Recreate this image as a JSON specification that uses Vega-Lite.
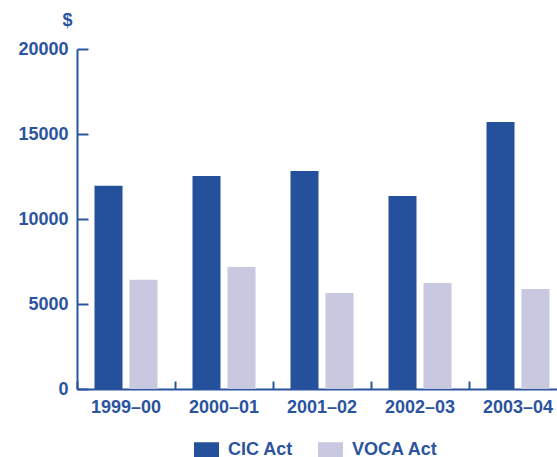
{
  "$schema": "https://vega.github.io/schema/vega-lite/v6.json",
  "width": 480,
  "height": 340,
  "autosize": {"type": "none"},
  "padding": {"left": 77, "top": 49, "right": 0, "bottom": 68},
  "background": "white",
  "config": {
    "view": {"stroke": null},
    "font": "Liberation Sans"
  },
  "data": {
    "values": [
      {"year": "1999–00", "series": "CIC Act", "value": 11950},
      {"year": "1999–00", "series": "VOCA Act", "value": 6420},
      {"year": "2000–01", "series": "CIC Act", "value": 12530},
      {"year": "2000–01", "series": "VOCA Act", "value": 7180},
      {"year": "2001–02", "series": "CIC Act", "value": 12820},
      {"year": "2001–02", "series": "VOCA Act", "value": 5650},
      {"year": "2002–03", "series": "CIC Act", "value": 11350},
      {"year": "2002–03", "series": "VOCA Act", "value": 6240},
      {"year": "2003–04", "series": "CIC Act", "value": 15700},
      {"year": "2003–04", "series": "VOCA Act", "value": 5880}
    ]
  },
  "mark": {"type": "bar"},
  "encoding": {
    "x": {
      "field": "year",
      "type": "nominal",
      "sort": null,
      "scale": {"range": [0, 490], "paddingInner": 0, "paddingOuter": 0},
      "axis": {
        "title": null,
        "labelAngle": 0,
        "bandPosition": 0,
        "domainColor": "#2b549e",
        "domainWidth": 2,
        "tickColor": "#2b549e",
        "tickWidth": 2,
        "tickSize": -8,
        "labelFont": "Liberation Sans",
        "labelFontSize": 18,
        "labelFontWeight": "bold",
        "labelColor": "#2b549e",
        "labelPadding": 17
      }
    },
    "xOffset": {
      "field": "series",
      "type": "nominal",
      "sort": ["CIC Act", "VOCA Act"],
      "scale": {"paddingInner": 0.2, "paddingOuter": 0.5}
    },
    "y": {
      "field": "value",
      "type": "quantitative",
      "scale": {"domain": [0, 20000], "nice": false},
      "axis": {
        "title": "$",
        "titleAngle": 0,
        "titleAlign": "center",
        "titleBaseline": "middle",
        "titleX": -10,
        "titleY": -29,
        "titleFont": "Liberation Sans",
        "titleFontSize": 18,
        "titleFontWeight": "bold",
        "titleColor": "#2b549e",
        "values": [0, 5000, 10000, 15000, 20000],
        "format": "d",
        "grid": false,
        "domainColor": "#2b549e",
        "domainWidth": 2,
        "tickColor": "#2b549e",
        "tickWidth": 2,
        "tickSize": -11,
        "labelFont": "Liberation Sans",
        "labelFontSize": 18,
        "labelFontWeight": "bold",
        "labelColor": "#2b549e",
        "labelPadding": 20
      }
    },
    "color": {
      "field": "series",
      "type": "nominal",
      "scale": {"domain": ["CIC Act", "VOCA Act"], "range": ["#25509c", "#c8c8e0"]},
      "legend": {
        "title": null,
        "orient": "none",
        "direction": "horizontal",
        "legendX": 117,
        "legendY": 388,
        "padding": 0,
        "symbolType": "M-1,-0.6H1V0.6H-1Z",
        "symbolSize": 625,
        "symbolStrokeWidth": 0,
        "symbolOpacity": 1,
        "labelFont": "Liberation Sans",
        "labelFontSize": 18,
        "labelFontWeight": "bold",
        "labelColor": "#2b549e",
        "labelOffset": 9,
        "columnPadding": 24
      }
    }
  }
}
